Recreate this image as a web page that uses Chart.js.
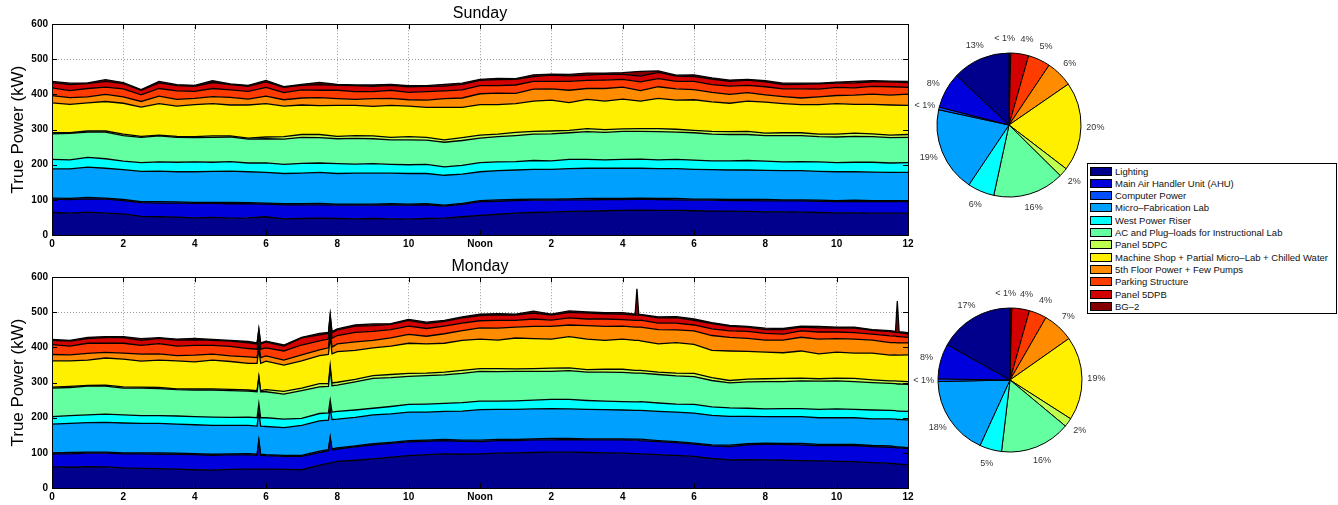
<!DOCTYPE html>
<html>
<head>
<meta charset="utf-8">
<script src="https://cdn.jsdelivr.net/npm/chart.js@4.4.0/dist/chart.umd.min.js"></script>
<style>
  body { margin: 0; background: #fff; width: 1338px; height: 505px; overflow: hidden; position: relative;
         font-family: "Liberation Sans", Arial, sans-serif; }
  .wrap { position: absolute; }
  #legend { position: absolute; left: 1087px; top: 163px; width: 250px; height: 151px;
            border: 1px solid #000; background: #fff; box-sizing: border-box; z-index: 5; }
  .row { position: absolute; left: 2px; height: 11px; }
  .sw { position: absolute; left: 0; top: 1px; width: 22px; height: 9px; border: 1px solid #000; box-sizing: border-box; }
  .txt { position: absolute; left: 25px; top: 0; font-size: 9.5px; line-height: 11px; color: #111; white-space: nowrap; }
</style>
</head>
<body>
<div class="wrap" style="left:0;top:0;width:920px;height:251px"><canvas id="sunday"></canvas></div>
<div class="wrap" style="left:0;top:253px;width:920px;height:251px"><canvas id="monday"></canvas></div>
<div class="wrap" style="left:894px;top:25px;width:230px;height:200px"><canvas id="sundayPie"></canvas></div>
<div class="wrap" style="left:895px;top:280px;width:230px;height:200px"><canvas id="mondayPie"></canvas></div>
<div id="legend"></div>

<script>
// time of day in hours, one sample every half hour
const sunHours = [0,0.5,1,1.5,2,2.5,3,3.5,4,4.5,5,5.5,6,6.5,7,7.5,8,8.5,9,9.5,10,10.5,11,11.5,
  12,12.5,13,13.5,14,14.5,15,15.5,16,16.5,17,17.5,18,18.5,19,19.5,20,20.5,21,21.5,22,22.5,23,23.5,24];
// monday has a few extra samples round the short spikes
const monHours = [0,0.5,1,1.5,2,2.5,3,3.5,4,4.5,5,5.5, 5.75,5.8,5.85, 6,6.5,7,7.5, 7.75,7.8,7.85,
  8,8.5,9,9.5,10,10.5,11,11.5,12,12.5,13,13.5,14,14.5,15,15.5,16, 16.35,16.4,16.45,
  16.5,17,17.5,18,18.5,19,19.5,20,20.5,21,21.5,22,22.5,23,23.5, 23.65,23.7,23.75, 24];

const tickLabels = ['0','2','4','6','8','10','Noon','2','4','6','8','10','12'];

const seriesNames = [
  'Lighting',
  'Main Air Handler Unit (AHU)',
  'Computer Power',
  'Micro–Fabrication Lab',
  'West Power Riser',
  'AC and Plug–loads for Instructional Lab',
  'Panel 5DPC',
  'Machine Shop + Partial Micro–Lab + Chilled Water',
  '5th Floor Power + Few Pumps',
  'Parking Structure',
  'Panel 5DPB',
  'BG–2'
];

const seriesColors = ['#00008c','#0000dc','#0050ff','#00a0ff','#00ffff','#64ffa0',
  '#beff50','#fff000','#ff8c00','#ff3c00','#d20000','#820000'];

// Sunday, kW per load (stacked from the bottom)
const sunLighting = [64,62,65,62,60,53,52,51,49,50,48,49,52,46,47,48,47,46,47,46,45,47,48,52,
  56,59,62,64,65,67,68,69,70,71,70,70,69,68,68,67,66,66,65,64,63,63,62,62,62];
const sunAHU = [38,39,38,40,38,39,39,40,41,40,41,40,36,40,39,38,38,39,38,39,40,39,34,35,
  39,37,36,35,34,33,32,32,31,31,31,30,30,31,30,31,31,31,32,32,32,32,33,33,33];
const sunComputer = [3,3,4,3,3,3,4,3,3,3,4,3,3,3,3,4,3,3,3,4,3,3,3,3,
  3,4,3,3,3,3,4,3,3,3,3,4,3,3,3,3,4,3,3,3,3,4,3,3,3];
const sunMicroFab = [83,84,86,85,85,86,87,86,87,88,89,88,87,86,87,88,87,88,88,87,87,86,85,83,
  82,83,84,85,85,86,86,86,86,85,85,85,85,84,84,84,83,83,83,82,82,81,81,80,80];
const sunWest = [27,26,28,27,24,25,26,27,28,26,27,25,27,26,28,27,28,26,27,25,25,26,24,25,
  26,25,24,25,24,26,25,24,25,26,25,26,26,25,26,27,26,25,26,27,26,27,28,27,28];
const sunAC = [73,75,72,76,73,72,74,71,69,71,70,68,69,72,74,72,71,73,71,70,71,69,70,71,
  70,72,74,75,77,76,79,78,80,79,80,78,78,76,75,74,73,75,74,72,73,74,73,72,72];
const sun5DPC = [3,2,3,3,4,3,2,3,3,4,3,3,5,7,8,9,7,8,8,7,9,8,7,8,
  8,7,9,8,8,7,9,8,7,8,9,8,7,8,8,9,7,8,8,7,8,9,8,7,8];
const sunMachine = [85,81,80,84,88,83,90,86,91,92,88,94,95,87,84,82,88,86,84,91,87,85,92,86,
  87,84,82,86,88,79,83,81,85,78,86,83,87,84,81,86,88,83,80,84,87,82,84,86,83];
const sun5thFloor = [21,19,17,20,18,16,21,19,18,20,22,17,21,18,20,23,19,17,22,20,18,21,25,27,
  31,33,29,34,32,35,31,36,34,30,33,32,29,27,25,24,21,20,19,22,23,26,29,28,32];
const sunParking = [22,20,24,21,23,19,22,24,20,23,21,22,25,20,23,21,24,22,20,23,21,24,22,23,
  23,21,24,22,21,25,23,24,22,25,23,21,23,22,24,21,23,22,26,22,23,21,22,24,19];
const sun5DPB = [15,17,14,16,15,13,16,15,14,17,15,14,16,15,13,16,14,17,15,14,16,15,14,16,
  15,17,16,14,18,16,15,17,14,16,18,15,14,16,13,15,14,12,13,15,12,14,13,14,14];
const sunBG2 = [3,4,2,5,3,2,4,3,3,5,2,3,4,2,3,6,3,2,4,3,3,2,5,3,
  3,4,2,5,3,4,6,3,5,14,4,3,5,3,4,2,3,4,3,2,3,4,3,2,3];

// Monday, kW per load (one line per stretch between the extra spike samples)
const monLighting = [60,59,61,60,57,56,55,54,52,51,53,54, 54,54,54, 54,53,52,65, 70,71,72,
  76,79,83,88,92,95,97,96,97,99,100,101,102,102,101,100,99, 98,98,98,
  97,95,93,90,84,80,81,80,79,78,77,76,75,72,70, 69,68,68, 66];
const monAHU = [37,38,38,39,40,41,41,42,43,42,41,40, 39,79,39, 38,37,38,36, 36,71,36,
  35,38,40,39,39,38,38,37,35,36,35,36,35,36,36,37,38, 38,38,38,
  38,37,36,35,36,38,42,45,45,45,44,45,46,46,46, 46,46,46, 46];
const monComputer = [3,4,3,3,3,3,4,3,3,3,3,4, 3,3,3, 3,3,3,4, 3,3,3,
  3,3,3,3,4,3,3,3,4,3,3,3,4,3,3,3,3, 3,3,3,
  4,3,3,3,3,4,3,3,3,4,3,3,3,3,4, 3,3,3, 3];
const monMicroFab = [82,83,84,85,85,84,84,83,82,82,81,80, 80,80,80, 80,79,85,86, 84,84,84,
  82,81,82,81,81,80,80,83,87,86,86,85,85,84,84,83,82, 82,82,82,
  82,83,84,85,84,82,78,75,76,76,76,76,76,76,77, 78,78,78, 79];
const monWest = [21,22,22,23,23,22,22,23,23,24,23,24, 24,24,24, 25,24,20,21, 21,21,21,
  22,21,19,21,22,23,23,24,24,23,24,25,26,27,25,24,24, 24,24,24,
  25,24,23,25,24,24,23,22,23,23,24,25,24,25,24, 24,24,24, 24];
const monAC = [81,80,82,80,76,78,77,75,76,77,76,74, 74,74,74, 74,71,79,76, 75,90,75,
  75,80,85,82,80,81,81,83,85,84,84,82,80,82,81,83,83, 82,82,82,
  81,81,80,79,75,71,75,78,77,79,80,80,79,78,77, 77,77,77, 77];
const mon5DPC = [3,3,2,3,4,3,3,2,3,3,4,3, 3,3,3, 6,8,7,9, 8,8,8,
  8,7,8,9,8,7,8,9,8,9,7,8,9,8,7,8,9, 8,8,8,
  8,7,8,9,8,7,8,8,9,8,7,8,9,8,7, 8,8,8, 8];
const monMachine = [75,73,72,77,79,74,78,80,77,82,79,76, 78,78,78, 81,75,78,80, 83,83,83,
  87,83,79,81,86,83,82,85,84,81,88,85,83,89,87,82,86, 85,85,85,
  84,80,87,83,78,84,79,76,73,77,71,74,72,76,73, 74,74,74, 76];
const mon5thFloor = [18,17,19,16,17,20,18,15,19,17,16,18, 16,16,16, 15,14,17,16, 19,19,19,
  22,24,21,23,25,22,27,28,32,34,31,35,36,33,38,40,37, 38,38,38,
  39,41,36,38,42,39,37,34,36,39,42,38,40,37,36, 35,35,35, 34];
const monParking = [28,25,29,26,28,25,29,27,28,25,27,24, 24,24,24, 23,26,28,26, 25,25,25,
  24,27,26,24,24,22,22,21,20,22,19,21,18,20,19,21,18, 19,19,19,
  20,18,19,17,19,18,20,19,17,18,20,19,18,17,19, 18,18,18, 16];
const mon5DPB = [12,14,13,16,16,14,15,17,16,14,15,16, 15,15,15, 16,14,20,17, 16,16,16,
  16,18,16,15,16,14,13,15,15,16,15,17,14,16,17,15,16, 15,15,15,
  14,15,16,13,15,13,12,11,13,11,12,11,13,11,12, 11,11,11, 10];
const monBG2 = [3,2,4,3,3,5,2,3,4,3,2,4, 3,3,3, 3,3,2,4, 3,3,3,
  3,3,5,2,3,4,3,3,4,3,3,5,3,4,3,3,4, 3,75,3,
  2,3,3,4,3,3,2,4,3,3,4,3,3,2,3, 3,90,3, 3];

// share of the day's energy, in legend order
const sunShares = [13, 8, 0.6, 19, 6, 16, 2, 20, 6, 5, 4, 0.4];
const sunShareLabels = ['13%','8%','< 1%','19%','6%','16%','2%','20%','6%','5%','4%','< 1%'];
const monShares = [17, 8, 0.6, 18, 5, 16, 2, 19, 7, 4, 4, 0.4];
const monShareLabels = ['17%','8%','< 1%','18%','5%','16%','2%','19%','7%','4%','4%','< 1%'];

Chart.defaults.font.family = '"Liberation Sans", Arial, sans-serif';
Chart.defaults.color = '#000';

// box round the plot with inward ticks, matlab style
const framePlugin = {
  id: 'frame',
  afterDraw(chart) {
    const { ctx, chartArea: a, scales } = chart;
    ctx.save();
    ctx.strokeStyle = '#000';
    ctx.lineWidth = 1;
    ctx.beginPath();
    scales.x.ticks.forEach(t => {
      const x = Math.round(scales.x.getPixelForValue(t.value)) + 0.5;
      ctx.moveTo(x, a.bottom); ctx.lineTo(x, a.bottom - 5);
      ctx.moveTo(x, a.top); ctx.lineTo(x, a.top + 5);
    });
    scales.y.ticks.forEach(t => {
      const y = Math.round(scales.y.getPixelForValue(t.value)) + 0.5;
      ctx.moveTo(a.left, y); ctx.lineTo(a.left + 5, y);
      ctx.moveTo(a.right, y); ctx.lineTo(a.right - 5, y);
    });
    ctx.stroke();
    ctx.strokeRect(Math.round(a.left) + 0.5, Math.round(a.top) + 0.5,
      Math.round(a.right - a.left), Math.round(a.bottom - a.top));
    ctx.restore();
  }
};

// percent labels outside the slices, pushed apart when two collide
const pieTextPlugin = {
  id: 'pieText',
  afterDatasetsDraw(chart, args, opts) {
    const { ctx } = chart;
    const arcs = chart.getDatasetMeta(0).data;
    ctx.save();
    ctx.font = '9px "Liberation Sans", Arial, sans-serif';
    ctx.fillStyle = '#333';
    ctx.textAlign = 'center';
    ctx.textBaseline = 'middle';
    const pos = arcs.map((arc, i) => {
      const p = arc.getProps(['x', 'y', 'startAngle', 'endAngle', 'outerRadius'], true);
      const mid = (p.startAngle + p.endAngle) / 2;
      const r = p.outerRadius * 1.2;
      const text = opts.labels[i];
      return { text, x: p.x + Math.cos(mid) * r, y: p.y + Math.sin(mid) * r, w: ctx.measureText(text).width };
    });
    for (let i = 1; i < pos.length; i++) {
      const a = pos[i - 1], b = pos[i];
      if (Math.abs(a.y - b.y) < 10) {
        const overlap = (a.w + b.w) / 2 + 6 - Math.abs(b.x - a.x);
        if (overlap > 0) {
          const dir = b.x >= a.x ? 1 : -1;
          a.x -= dir * overlap / 2;
          b.x += dir * overlap / 2;
        }
      }
    }
    pos.forEach(p => ctx.fillText(p.text, p.x, p.y));
    ctx.restore();
  }
};

function areaChart(id, title, hours, series) {
  const datasets = series.map((vals, i) => ({
    label: seriesNames[i],
    data: hours.map((h, k) => ({ x: h, y: vals[k] })),
    backgroundColor: seriesColors[i],
    borderColor: '#000',
    borderWidth: 1.3,
    pointRadius: 0,
    tension: 0,
    fill: i === 0 ? 'origin' : '-1'
  }));

  return new Chart(document.getElementById(id), {
    type: 'line',
    data: { datasets },
    options: {
      responsive: true,
      maintainAspectRatio: false,
      animation: false,
      layout: { padding: { right: 12 } },
      plugins: {
        legend: { display: false },
        tooltip: { enabled: false },
        title: {
          display: true, text: title, fullSize: false, color: '#000',
          font: { size: 16, weight: 'normal' }, padding: { top: 4, bottom: 1 }
        }
      },
      scales: {
        x: {
          type: 'linear', min: 0, max: 24,
          grid: { color: '#999', drawTicks: false },
          border: { display: false, dash: [1, 2] },
          ticks: {
            stepSize: 2, autoSkip: false, maxRotation: 0, padding: 3,
            font: { size: 10, weight: 'bold' }, color: '#000',
            callback: v => tickLabels[v / 2]
          },
          afterFit: s => { s.height = 16; }
        },
        y: {
          stacked: true, min: 0, max: 600,
          grid: { color: '#999', drawTicks: false },
          border: { display: false, dash: [1, 2] },
          ticks: { stepSize: 100, padding: 4, font: { size: 10, weight: 'bold' }, color: '#000' },
          title: { display: true, text: 'True Power (kW)', font: { size: 17 }, color: '#000', padding: { top: 8, bottom: 0 } },
          afterFit: s => { s.width = 52; }
        }
      }
    },
    plugins: [framePlugin]
  });
}

function pieChart(id, shares, labels) {
  return new Chart(document.getElementById(id), {
    type: 'pie',
    data: {
      labels: seriesNames.slice().reverse(),
      datasets: [{
        data: shares.slice().reverse(),
        backgroundColor: seriesColors.slice().reverse(),
        borderColor: '#000',
        borderWidth: 1,
        radius: 72
      }]
    },
    options: {
      responsive: true,
      maintainAspectRatio: false,
      animation: false,
      plugins: {
        legend: { display: false },
        tooltip: { enabled: false },
        pieText: { labels: labels.slice().reverse() }
      }
    },
    plugins: [pieTextPlugin]
  });
}

areaChart('sunday', 'Sunday', sunHours, [sunLighting, sunAHU, sunComputer, sunMicroFab, sunWest, sunAC,
  sun5DPC, sunMachine, sun5thFloor, sunParking, sun5DPB, sunBG2]);
areaChart('monday', 'Monday', monHours, [monLighting, monAHU, monComputer, monMicroFab, monWest, monAC,
  mon5DPC, monMachine, mon5thFloor, monParking, mon5DPB, monBG2]);
pieChart('sundayPie', sunShares, sunShareLabels);
pieChart('mondayPie', monShares, monShareLabels);

// legend box shared by both days
const legend = document.getElementById('legend');
seriesNames.forEach((name, i) => {
  const row = document.createElement('div');
  row.className = 'row';
  row.style.top = (1.5 + i * 12.33) + 'px';
  row.innerHTML = '<span class="sw" style="background:' + seriesColors[i] + '"></span><span class="txt">' + name + '</span>';
  legend.appendChild(row);
});
</script>
</body>
</html>
